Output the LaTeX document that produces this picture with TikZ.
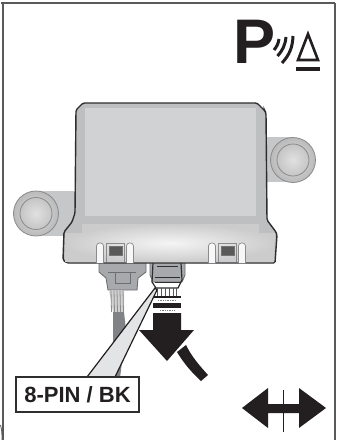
\documentclass[tikz,border=0pt]{standalone}
\usepackage{fontspec}
\setmainfont{Liberation Sans}
\definecolor{inkblack}{HTML}{231F20}
\definecolor{frameedge}{HTML}{58595B}
\definecolor{bodyedge}{HTML}{2E2E30}
\definecolor{bodyfill}{HTML}{BEBFC1}
\definecolor{panelfill}{HTML}{D1D2D4}
\definecolor{earfill}{HTML}{C6C7C9}
\definecolor{earedge}{HTML}{8A8B8D}
\definecolor{connfill}{HTML}{A7A9AC}
\definecolor{connedge}{HTML}{6D6E71}
\definecolor{sleevefill}{HTML}{808285}
\definecolor{wedgefill}{HTML}{E3E4E5}

\begin{document}
\begin{tikzpicture}[
  x=1pt, y=-1pt,
  frameline/.style={draw=frameedge, line width=1.6pt},
  ear/.style={draw=earedge, line width=0.8pt},
  clip tab/.style={draw=earedge, fill=black!3, line width=0.7pt, rounded corners=3pt},
  window/.style={draw=black!55, fill=black!65, line width=0.5pt},
  conn/.style={draw=connedge, fill=connfill, line width=0.9pt},
  wire/.style={draw=#1, line width=0.8pt},
  solidblack/.style={fill=inkblack, draw=none},
  callout/.style={rectangle, draw=bodyedge, fill=white, line width=1.2pt, minimum width=123pt,
              minimum height=35pt, inner sep=0pt, font=\fontsize{22}{24}\selectfont\bfseries, text=inkblack},
  signal/.style={draw=inkblack, line width=3pt},
]
\useasboundingbox (0,0) rectangle (337,440);
\fill[white] (0,0) rectangle (337,440);
% ---- frame
\draw[frameline] (1,3) -- (335,3);
\draw[frameline] (3,3) -- (3,440);
\draw[frameedge, line width=2.6pt] (335,3) -- (335,440);
\draw[frameedge, line width=0.8pt] (0.5,425) .. controls (2,430) and (2,435) .. (2,440);
% ---- mounting ears
\fill[earfill] (266,137) rectangle (293,182);
\fill[earfill] (36,191) rectangle (76,236);
\shade[ear, inner color=black!12, outer color=black!27] (293,160) circle (22.5);
\draw[ear] (293,160) circle (16);
\shade[ear, inner color=black!12, outer color=black!27] (36,213.5) circle (22.5);
\draw[ear] (36,213.5) circle (16);
% ---- connectors under the housing
\filldraw[conn] (99,262) -- (99,272) -- (106,278) -- (108,290) -- (137,290) -- (138,278) -- (146,272) -- (146,262) -- cycle;
\draw[connedge, line width=0.9pt] (108,272) -- (136,272) (115,272) -- (115,283) -- (130,283) -- (130,272);
\fill[black!18] (109,290) -- (124,290) -- (124,312) -- (113,312) -- cycle;
\foreach \wx in {111,114,117,120,123}
  \draw[wire=black!45] (\wx,290) -- (\wx+0.5,312);
\fill[sleevefill] (113,312) -- (124,312) -- (126,330) -- (120,378) -- (113,378) -- cycle;
\filldraw[conn] (150,262) -- (150,275) -- (153,282) -- (182,282) -- (185,275) -- (185,262) -- cycle;
\draw[bodyedge, line width=1.2pt] (153,263) -- (152,282) -- (156,288) -- (178,288) -- (182,280) -- (181,263);
\draw[bodyedge, line width=1pt] (157,266) -- (178,266) (155,277) -- (180,277) (155,282) -- (180,282);
\foreach \wx in {157,161,165,169,173,176}
  \draw[wire=black!65] (\wx,288) -- (\wx,296);
% ---- housing
\filldraw[draw=bodyedge, fill=bodyfill, line width=1.4pt, rounded corners=1.5pt]
  (83,103) -- (257,103) -- (265,111) -- (266,113) -- (267,220) -- (276,232) -- (277,235)
  -- (275,263) -- (67,263) -- (63,260) -- (64,232) -- (72,222) -- (75,213) -- (76,110) -- cycle;
\fill[panelfill] (85,108) rectangle (256,216);
\shade[inner color=black!4, outer color=black!20]
  (82,224) -- (259,224) -- (259,233) -- (275,233) -- (274,262) -- (65,262) -- (65,233) -- (82,233) -- cycle;
\foreach \cx in {115.5,227.5} {
  \draw[clip tab] (\cx-19,263) -- (\cx-19,243) -- (\cx-12,243) -- (\cx-12,263);
  \draw[clip tab] (\cx+11,263) -- (\cx+11,243) -- (\cx+18,243) -- (\cx+18,263);
  \draw[earedge, line width=0.7pt] (\cx-9,262) -- (\cx-9,243) -- (\cx+9,243) -- (\cx+9,262);
  \draw[window] (\cx-6.5,246) rectangle (\cx+6.5,255);
}
% ---- removal arrow and cable
\fill[solidblack] (153,296) rectangle (181,298);
\draw[black!50, line width=1pt, dash pattern=on 1pt off 0.7pt] (158,300.5) -- (176,300.5);
\fill[solidblack] (153,303) rectangle (181,308);
\draw[black!50, line width=1pt, dash pattern=on 1pt off 0.7pt] (160,310.5) -- (174,310.5);
\fill[solidblack] (153,313) -- (181,313) -- (181,330) -- (194,330) -- (167,361) -- (139,330) -- (153,330) -- cycle;
\fill[solidblack] (177,352) -- (186,345) .. controls (192,357) and (199,365) .. (208,375) -- (201,381) .. controls (191,372) and (183,362) .. (177,352) -- cycle;
% ---- callout
\filldraw[draw=inkblack, fill=wedgefill, line width=1.2pt] (87,377) -- (155,288) -- (157,290) -- (115,377);
\node[callout] (pinlabel) at (77.5,394.5) {8-PIN / BK};
% ---- parking sensor symbol
\node[inner sep=0pt, font=\fontsize{63}{63}\selectfont\bfseries, text=inkblack, anchor=base west] (psymbol) at (233.5,63) {P};
\draw[signal] (274,50) to[bend right=15] (279,39);
\draw[signal] (277.5,56) to[bend right=18] (286,37);
\draw[signal] (282,63) to[bend right=20] (293,36);
\draw[inkblack, line width=2.6pt, line join=miter] (308,34) -- (298,60) -- (318,60) -- cycle;
\fill[solidblack] (296,67) rectangle (320,71);
% ---- double arrow
\fill[solidblack] (242,408) -- (268,388) -- (268,404) -- (299,404) -- (299,388) -- (326,408) -- (299,428) -- (299,413) -- (268,413) -- (268,428) -- cycle;
\draw[inkblack, line width=1pt] (283.5,390) -- (283.5,432);
\end{tikzpicture}
\end{document}
